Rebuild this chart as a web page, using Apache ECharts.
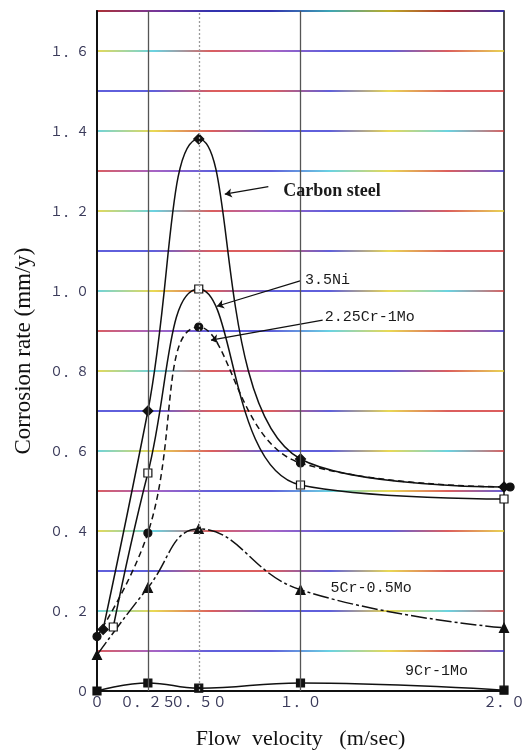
<!DOCTYPE html>
<html><head><meta charset="utf-8">
<script src="https://cdn.jsdelivr.net/npm/echarts@6/dist/echarts.min.js"></script>
<style>html,body{margin:0;padding:0;background:#fff}#c{width:528px;height:755px}</style>
</head><body><div id="c"></div>
<script>
// ---- data ----
const xTicks = [0, 0.25, 0.5, 1.0, 2.0];
const xTickLabels = ['０', '０．２５', '０．５０', '１．０', '２．０'];
const yTicks = [0, 0.2, 0.4, 0.6, 0.8, 1.0, 1.2, 1.4, 1.6];
const yTickLabels = ['０', '０．２', '０．４', '０．６', '０．８', '１．０', '１．２', '１．４', '１．６'];
const vGridX = [0.25, 0.5, 1.0];

const carbonX = [0.03, 0.25, 0.5, 1.0, 2.0];
const carbonY = [0.154, 0.70, 1.38, 0.58, 0.51];
const ni35X = [0.08, 0.25, 0.5, 1.0, 2.0];
const ni35Y = [0.16, 0.545, 1.005, 0.515, 0.48];
const cr225X = [0, 0.25, 0.5, 1.0, 2.03];
const cr225Y = [0.136, 0.395, 0.91, 0.57, 0.51];
const cr5X = [0, 0.25, 0.5, 1.0, 2.0];
const cr5Y = [0.09, 0.258, 0.405, 0.253, 0.158];
const cr9X = [0, 0.25, 0.5, 1.0, 2.0];
const cr9Y = [0.0, 0.02, 0.007, 0.02, 0.002];

const seriesNames = ['Carbon steel', '3.5Ni', '2.25Cr-1Mo', '5Cr-0.5Mo', '9Cr-1Mo'];
const labelX = [0.915, 1.022, 1.119, 1.148, 1.513];
const labelY = [1.249, 1.028, 0.934, 0.258, 0.05];
const arrowFrom = [[0.842, 1.261], [1.002, 1.026], [1.109, 0.927], null, null];
const arrowTo = [[0.628, 1.242], [0.589, 0.962], [0.560, 0.877], null, null];

// ---- chart ----
const zip = (xs, ys) => xs.map((x, i) => [x, ys[i]]);
const grad = stops => ({type: 'linear', x: 0, y: 0, x2: 1, y2: 0,
  colorStops: stops.map((c, i) => ({offset: i / (stops.length - 1), color: c}))});
const R = '#d02828', B = '#2a2ad0', Yl = '#e2cc1a', C = '#38c4d8', P = '#8a30b0';
const gridColors = [
  grad([Yl, C, R, P, B, B, R, Yl]),
  grad([R, P, B, B, C, Yl, R, B]),
  grad([C, Yl, R, B, B, Yl, C, R]),
  grad([B, B, R, R, B, Yl, R, R])
];

const monoFont = '"Liberation Mono", "DejaVu Sans Mono", monospace';
const serifFont = '"Liberation Serif", "DejaVu Serif", serif';
const cjkFont = '"Noto Sans CJK JP", "Liberation Mono", monospace';
const symbols = ['diamond', 'rect', 'circle', 'triangle', 'rect'];
const symSizes = [10, 8, 8, 9, 8];
const fills = ['#111', '#fff', '#111', '#111', '#111'];
const dashes = ['solid', 'solid', [6, 4], [16, 3, 3, 3], 'solid'];
const datas = [zip(carbonX, carbonY), zip(ni35X, ni35Y), zip(cr225X, cr225Y), zip(cr5X, cr5Y), zip(cr9X, cr9Y)];

const series = datas.map((d, i) => {
  const s = {
    name: seriesNames[i], type: 'line', data: d, smooth: 0.45, clip: false,
    symbol: symbols[i], symbolSize: symSizes[i], showAllSymbol: true,
    itemStyle: {color: fills[i], borderColor: '#111', borderWidth: 1.2},
    lineStyle: {color: '#111', width: 1.5, type: dashes[i]},
    z: 3,
    markPoint: {
      symbol: 'circle', symbolSize: 0, silent: true,
      data: [{coord: [labelX[i], labelY[i]], value: seriesNames[i]}],
      label: {show: true, position: 'right', distance: 0, formatter: seriesNames[i],
        color: '#1a1a1a',
        fontFamily: i === 0 ? serifFont : monoFont,
        fontWeight: i === 0 ? 'bold' : 'normal',
        fontSize: i === 0 ? 18 : 15}
    }
  };
  if (arrowFrom[i]) {
    s.markLine = {
      silent: true, symbol: ['none', 'arrow'], symbolSize: 7,
      label: {show: false},
      lineStyle: {color: '#111', width: 1.2, type: 'solid'},
      data: [[{coord: arrowFrom[i]}, {coord: arrowTo[i]}]]
    };
  }
  return s;
});
// vertical grid lines
series.push({
  type: 'line', data: [], z: 1,
  markLine: {
    silent: true, symbol: ['none', 'none'], label: {show: false},
    data: vGridX.map((v, i) => ({xAxis: v, lineStyle: {color: i === 1 ? '#9a9a9a' : '#555', width: 1.3, type: i === 1 ? [2, 2] : 'solid'}}))
  }
});

const chart = echarts.init(document.getElementById('c'));
chart.setOption({
  animation: false,
  backgroundColor: '#fff',
  grid: {left: 97, right: 20, top: 11, bottom: 58, show: true, borderColor: '#111', borderWidth: 1.5, backgroundColor: 'transparent'},
  xAxis: {
    type: 'value', min: 0, max: 2, interval: 0.25,
    name: 'Flow  velocity   (m/sec)', nameLocation: 'middle', nameGap: 37,
    nameTextStyle: {fontFamily: serifFont, fontSize: 22, color: '#111'},
    axisLine: {show: true, lineStyle: {color: '#111', width: 2}},
    axisTick: {show: false},
    splitLine: {show: false},
    axisLabel: {
      margin: 4, fontFamily: cjkFont, fontSize: 14, color: '#3a3a5a',
      showMaxLabel: true, showMinLabel: true, hideOverlap: false,
      formatter: v => { const k = xTicks.findIndex(t => Math.abs(t - v) < 1e-6); return k >= 0 ? xTickLabels[k] : ''; }
    }
  },
  yAxis: {
    type: 'value', min: 0, max: 1.7, interval: 0.1,
    name: 'Corrosion rate (mm/y)', nameLocation: 'middle', nameGap: 62, nameRotate: 90,
    nameTextStyle: {fontFamily: serifFont, fontSize: 23, color: '#111'},
    axisLine: {show: true, lineStyle: {color: '#111', width: 2}},
    axisTick: {show: false},
    splitLine: {show: true, lineStyle: {color: gridColors, width: 1.6}},
    axisLabel: {
      margin: 8, fontFamily: cjkFont, fontSize: 13, color: '#3a3a5a',
      formatter: v => { const k = yTicks.findIndex(t => Math.abs(t - v) < 1e-6); return k >= 0 ? yTickLabels[k] : ''; }
    }
  },
  series: series
});
</script>
</body></html>
